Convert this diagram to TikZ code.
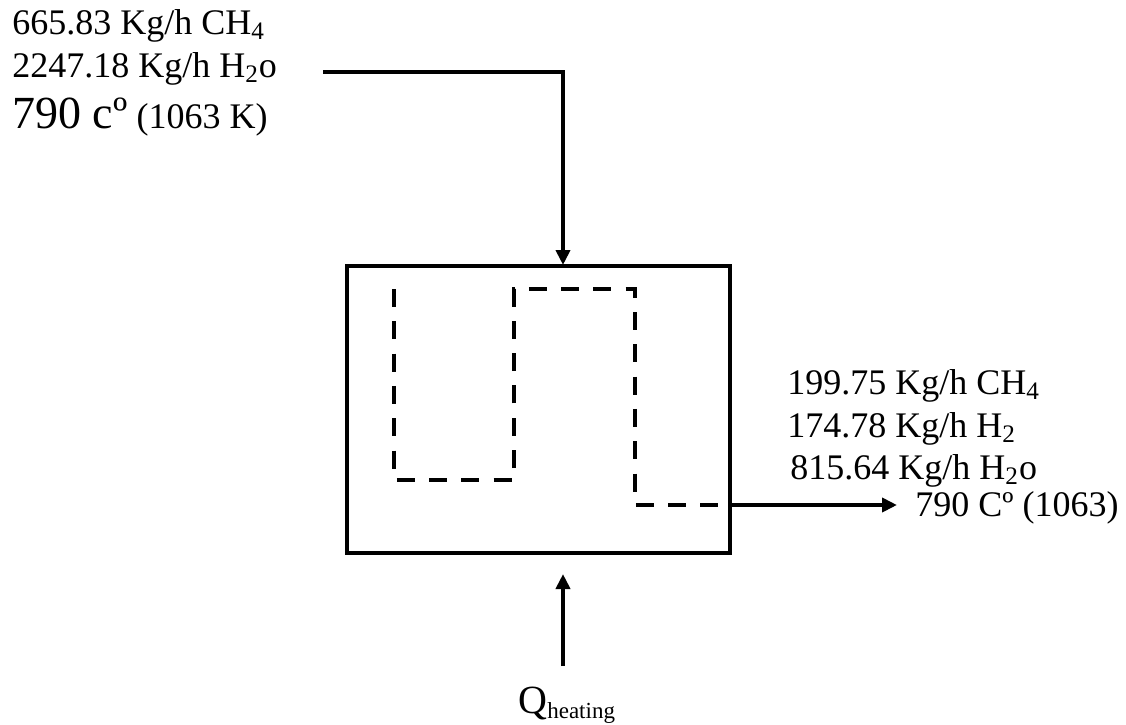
\documentclass[tikz,border=0pt]{standalone}
\usepackage{fontspec}
\setmainfont{Liberation Serif}
\usetikzlibrary{arrows.meta,positioning}
\tikzset{
  flow/.style={line width=2pt,-{Triangle[length=7.5pt,width=7pt]}},
  reactor/.style={draw,line width=2pt,minimum width=191.5pt,minimum height=143.5pt,inner sep=0pt},
  tube/.style={line width=2pt,dash pattern=on 9pt off 7.15pt},
  lbl/.style={anchor=base west,inner sep=0pt,font=\fontsize{18}{21.6}\selectfont},
}
\newcommand{\bigtxt}[1]{{\fontsize{23}{27}\selectfont #1}}

\begin{document}
\begin{tikzpicture}[x=0.5pt,y=-0.5pt]
  \useasboundingbox (0,0) rectangle (1126,724);
  % feed
  \node[lbl] (feedch4) at (12,34) {665.83 Kg/h CH\textsubscript{4}};
  \node[lbl] (feedh2o) at (12,77) {2247.18 Kg/h H\textsubscript{2}o};
  \node[lbl] (feedtemp) at (12,128) {\bigtxt{790 cº} (1063 K)};
  % reactor
  \node[reactor] (reactor) at (538.5,409.5) {};
  \draw[tube] (394,289) -- (394,480) -- (514,480) -- (514,289) -- (635,289) -- (635,505) -- (730,505);
  % products
  \node[lbl] (prodch4) at (787,394) {199.75 Kg/h CH\textsubscript{4}};
  \node[lbl] (prodh2) at (787,437) {174.78 Kg/h H\textsubscript{2}};
  \node[lbl] (prodh2o) at (790,479) {815.64 Kg/h H\textsubscript{2}o};
  \node[lbl,inner xsep=9pt] (prodtemp) at (897,516) {790 Cº (1063)};
  % heat
  \node[anchor=base west,inner sep=0pt] (heat) at (518,713) {\fontsize{20}{24}\selectfont Q\raisebox{-0.3ex}{\fontsize{11.5}{14}\selectfont heating}};
  \coordinate (feedstart) at (323,72);
  \coordinate (inlet) at (563,265);
  \coordinate (outlet) at (730,505);
  \coordinate (heatin) at (563,666);
  \draw[flow] (feedstart) -| (inlet);
  \draw[flow] (outlet) -- (prodtemp.west |- outlet);
  \draw[flow,shorten >=9.5pt] (heatin) -- (heatin |- reactor.south);
\end{tikzpicture}
\end{document}
